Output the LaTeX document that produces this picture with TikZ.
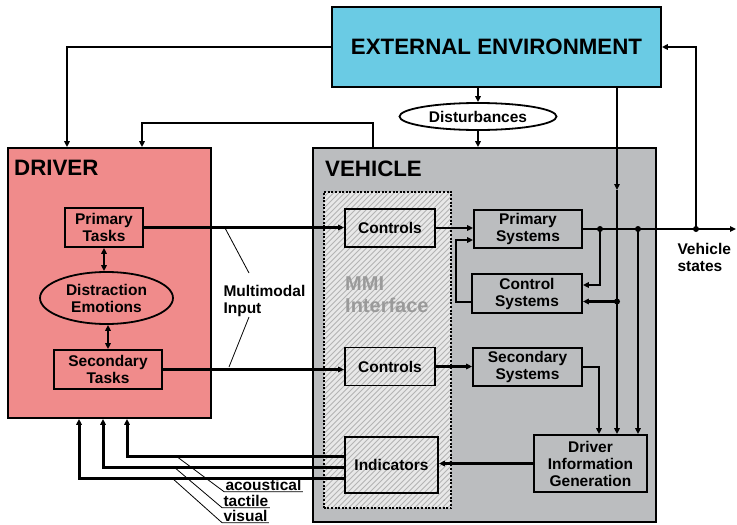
\documentclass[tikz,border=0pt]{standalone}
\usepackage{fontspec}
\setmainfont{Liberation Sans}
\usetikzlibrary{arrows.meta,shapes.geometric}

\definecolor{envblue}{HTML}{6ACBE4}
\definecolor{driverred}{HTML}{F08B8B}
\definecolor{vehgray}{HTML}{BBBDBF}
\definecolor{hatchbg}{HTML}{E8E8E8}
\definecolor{hatchline}{HTML}{B4B4B4}
\definecolor{mmigray}{HTML}{9A9A9A}

\begin{document}
\begin{tikzpicture}[
  x=1pt, y=-1pt,
  font=\fontsize{15.5}{17}\selectfont\bfseries,
  >={Triangle[length=6pt,width=5.5pt]},
  block/.style={
    draw,
    line width=1.8pt,
    align=center,
    inner sep=2pt
  },
  oval/.style={
    ellipse,
    draw,
    line width=1.8pt,
    align=center,
    inner sep=0pt
  },
  big/.style={font=\fontsize{22.3}{24}\selectfont\bfseries},
  title/.style={big, inner sep=0pt, anchor=base west},
  lbl/.style={inner sep=1.5pt, outer sep=0pt, align=left},
  wire/.style={->, line width=2.2pt},
  sense/.style={->, line width=3pt},
  leader/.style={line width=0.8pt}
]
\useasboundingbox (0,0) rectangle (737,525);

% frames
\node[block, fill=vehgray, minimum width=343pt, minimum height=374pt] (veh) at (484.5,335) {};
\node[title] (vehtitle) at (325,176) {VEHICLE};

\node[fill=hatchbg, minimum width=127pt, minimum height=316pt] (mmi) at (387.5,350) {};
\begin{scope}
  \clip (mmi.south west) rectangle (mmi.north east);
  \foreach \hx in {0,5.5,...,460}
    \draw[hatchline, line width=0.9pt] (\hx,510) -- ++(340,-340);
\end{scope}
\draw[line width=2pt, dash pattern=on 2pt off 1.6pt] (mmi.south west) rectangle (mmi.north east);
\node[font=\fontsize{20}{22}\selectfont\bfseries, text=mmigray, anchor=north west,
  inner sep=0pt, align=left] (mmitxt) at (345,277) {MMI\\Interface};

\node[block, fill=driverred, minimum width=203pt, minimum height=270pt] (driver) at (109.5,283) {};
\node[title] (drvtitle) at (14,175) {DRIVER};

\node[block, big, fill=envblue, minimum width=329pt, minimum height=80pt] (ee) at (496.5,47) {EXTERNAL ENVIRONMENT};
\node[oval, fill=white, minimum width=157pt, minimum height=27pt] (dist) at (478,116.5) {Disturbances};

% driver side
\node[block, minimum width=78pt, minimum height=39pt] (ptask) at (104,227.5) {Primary\\Tasks};
\node[oval, minimum width=133pt, minimum height=52pt] (distr) at (106.5,298) {Distraction\\Emotions};
\node[block, minimum width=108pt, minimum height=39pt] (stask) at (108,369.5) {Secondary\\Tasks};

% vehicle side
\node[block, minimum width=90pt, minimum height=38pt] (ctrlA) at (390,228) {Controls};
\node[block, minimum width=90pt, minimum height=38pt] (ctrlB) at (390,366.5) {Controls};
\node[block, minimum width=93pt, minimum height=56pt] (ind) at (391.5,465) {Indicators};
\node[block, fill=vehgray, minimum width=108pt, minimum height=38pt] (psys) at (528,229) {Primary\\Systems};
\node[block, fill=vehgray, minimum width=110pt, minimum height=39pt] (csys) at (527,293.5) {Control\\Systems};
\node[block, fill=vehgray, minimum width=109pt, minimum height=38pt] (ssys) at (527.5,367) {Secondary\\Systems};
\node[block, fill=vehgray, minimum width=113pt, minimum height=57pt] (dig) at (590.5,463.5) {Driver\\Information\\Generation};

% labels
\node[lbl, anchor=north west] (mmin) at (222,284) {Multimodal\\Input};
\node[lbl, anchor=north west] (vstates) at (676,242) {Vehicle\\states};
\node[lbl, anchor=base west] (acou) at (224,490) {acoustical};
\node[lbl, anchor=base west] (tact) at (222,506) {tactile};
\node[lbl, anchor=base west] (visu) at (222,521) {visual};

% junctions
\coordinate (vs) at (736,229);
\coordinate (br1) at (600,229);
\coordinate (br2) at (638,229);
\coordinate (br3) at (696,229);
\coordinate (envin) at (617,190);
\coordinate (br4) at (617,301.5);
\coordinate (mm1) at (225,228);
\coordinate (mm1e) at (249,273);
\coordinate (mm2) at (229,367);
\coordinate (mm2e) at (249,317);
\coordinate (ac0) at (176,456);
\coordinate (ta0) at (174,467);
\coordinate (vi0) at (172,478);

% connectors
\draw[wire] (ee.west) -| (67,0 |- driver.north);
\draw[wire] (veh.north -| 373,0) |- (142,123) -- (142,0 |- driver.north);
\draw[wire] (dist.north |- ee.south) -- (dist.north);
\draw[wire] (dist.south) -- (dist.south |- veh.north);
\draw[wire] (envin |- ee.south) -- (envin);
\draw[wire] (envin) -- (envin |- dig.north);
\draw[wire] (br4) -- (br4 -| csys.east);

\draw[wire] (ptask.east) -- (ptask.east -| ctrlA.west);
\draw[wire] (stask.east) -- (stask.east -| ctrlB.west);
\draw[wire, <->] (ptask.south) -- (ptask.south |- distr.north);
\draw[wire, <->] (stask.north) -- (stask.north |- distr.south);

\draw[wire] (ctrlA.east) -- (ctrlA.east -| psys.west);
\draw[wire] (ctrlB.east) -- (ctrlB.east -| ssys.west);
\draw[wire] (csys.west |- 0,302) -- ++(-15,0) |- (psys.west |- 0,240);
\draw[wire] (psys.east) -- (vs);
\draw[wire] (br1) |- (csys.east |- 0,285);
\draw[wire] (br2) -- (br2 |- dig.north);
\draw[wire] (br3) |- (ee.east);
\draw[wire] (ssys.east) -| (599,0 |- dig.north);
\draw[wire] (dig.west) -- (dig.west -| ind.east);

\foreach \j in {br1,br2,br3,br4}
  \fill (\j) circle (3pt);

% channels back to the driver
\draw[sense] (ind.west |- 0,456) -| (127,0 |- driver.south);
\draw[sense] (ind.west |- 0,467) -| (103,0 |- driver.south);
\draw[sense] (ind.west |- 0,478) -| (79,0 |- driver.south);

\draw[leader] (mm1) -- (mm1e);
\draw[leader] (mm2) -- (mm2e);
\draw[leader] (ac0) -- (acou.south west) -- (acou.south east);
\draw[leader] (ta0) -- (tact.south west) -- (tact.south east);
\draw[leader] (vi0) -- (visu.south west) -- (visu.south east);

\end{tikzpicture}
\end{document}
